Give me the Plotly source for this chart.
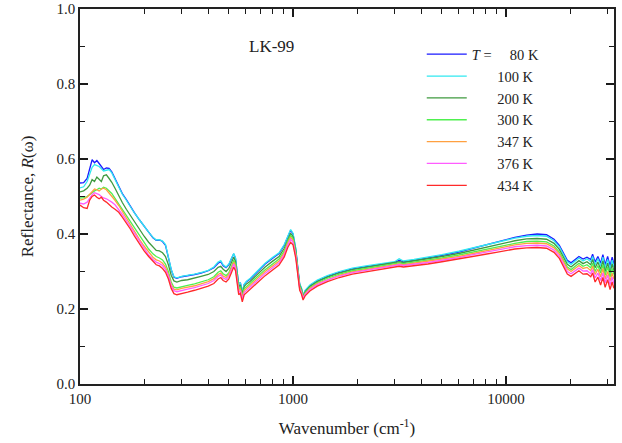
import plotly.graph_objects as go

wavenumber = [100, 104, 108, 111, 114, 117, 120, 123, 126, 129, 133, 137, 141, 146, 152, 158, 165, 172, 180, 190,
              200, 210, 220, 228, 236, 244, 252, 260, 268, 276, 285, 300, 320, 345, 370, 400, 425, 445, 458, 470,
              485, 500, 515, 527, 537, 547, 556, 566, 578, 590, 605, 630, 680, 740, 800, 860, 910, 945, 975, 1000,
              1030, 1055, 1075, 1095, 1115, 1140, 1200, 1300, 1450, 1650, 1900, 2200, 2600, 3000, 3150, 3300, 3700, 4300, 5000, 6000,
              7000, 8000, 9000, 10000, 11000, 12500, 14000, 15500, 16800, 17800, 18600, 19400, 20200, 21000, 22000, 23000, 24000, 25000, 25500, 26200,
              27000, 27800, 28500, 29200, 30000, 30800, 31500, 32100]

R_80K = [0.536, 0.537, 0.548, 0.575, 0.598, 0.590, 0.596, 0.588, 0.578, 0.572, 0.576, 0.575, 0.566, 0.548, 0.528, 0.508, 0.492, 0.474, 0.457, 0.438,
         0.420, 0.405, 0.390, 0.383, 0.384, 0.380, 0.370, 0.340, 0.305, 0.285, 0.282, 0.286, 0.288, 0.292, 0.296, 0.302, 0.310, 0.322, 0.326, 0.315,
         0.310, 0.318, 0.335, 0.347, 0.335, 0.300, 0.265, 0.270, 0.245, 0.265, 0.273, 0.280, 0.300, 0.320, 0.335, 0.348, 0.370, 0.395, 0.410, 0.400,
         0.360, 0.305, 0.265, 0.255, 0.236, 0.248, 0.262, 0.275, 0.287, 0.298, 0.307, 0.313, 0.320, 0.324, 0.330, 0.326, 0.330, 0.336, 0.343, 0.352,
         0.362, 0.370, 0.378, 0.386, 0.391, 0.397, 0.400, 0.398, 0.386, 0.370, 0.350, 0.330, 0.323, 0.330, 0.340, 0.333, 0.338, 0.332, 0.346, 0.325,
         0.340, 0.322, 0.345, 0.318, 0.340, 0.315, 0.338, 0.320]

R_100K = [0.523, 0.526, 0.540, 0.560, 0.578, 0.585, 0.582, 0.580, 0.574, 0.568, 0.570, 0.572, 0.563, 0.545, 0.525, 0.506, 0.490, 0.473, 0.456, 0.438,
          0.420, 0.405, 0.391, 0.384, 0.385, 0.381, 0.372, 0.342, 0.306, 0.286, 0.283, 0.287, 0.289, 0.293, 0.297, 0.303, 0.312, 0.325, 0.329, 0.318,
          0.312, 0.320, 0.336, 0.348, 0.336, 0.300, 0.265, 0.270, 0.246, 0.266, 0.274, 0.282, 0.302, 0.322, 0.337, 0.350, 0.372, 0.397, 0.412, 0.402,
          0.362, 0.307, 0.267, 0.257, 0.237, 0.250, 0.264, 0.277, 0.289, 0.300, 0.309, 0.315, 0.322, 0.326, 0.334, 0.328, 0.332, 0.338, 0.345, 0.354,
          0.363, 0.370, 0.377, 0.384, 0.389, 0.394, 0.396, 0.394, 0.382, 0.366, 0.346, 0.326, 0.319, 0.326, 0.336, 0.328, 0.334, 0.326, 0.340, 0.318,
          0.334, 0.315, 0.338, 0.310, 0.332, 0.306, 0.330, 0.312]

R_200K = [0.512, 0.515, 0.522, 0.530, 0.545, 0.540, 0.552, 0.545, 0.540, 0.555, 0.558, 0.548, 0.538, 0.522, 0.502, 0.484, 0.466, 0.450, 0.432, 0.412,
          0.394, 0.378, 0.364, 0.356, 0.355, 0.350, 0.340, 0.318, 0.290, 0.275, 0.272, 0.276, 0.278, 0.282, 0.287, 0.292, 0.300, 0.311, 0.314, 0.306,
          0.300, 0.308, 0.325, 0.338, 0.327, 0.293, 0.259, 0.264, 0.240, 0.260, 0.267, 0.274, 0.293, 0.312, 0.327, 0.340, 0.362, 0.387, 0.402, 0.393,
          0.355, 0.302, 0.263, 0.253, 0.234, 0.246, 0.260, 0.273, 0.285, 0.296, 0.305, 0.311, 0.318, 0.322, 0.326, 0.324, 0.328, 0.334, 0.340, 0.348,
          0.357, 0.364, 0.371, 0.378, 0.382, 0.387, 0.388, 0.386, 0.375, 0.359, 0.339, 0.319, 0.312, 0.319, 0.329, 0.321, 0.326, 0.318, 0.332, 0.310,
          0.325, 0.306, 0.328, 0.300, 0.322, 0.296, 0.320, 0.302]

R_300K = [0.496, 0.497, 0.500, 0.505, 0.512, 0.515, 0.518, 0.522, 0.520, 0.525, 0.522, 0.515, 0.508, 0.495, 0.480, 0.465, 0.448, 0.432, 0.414, 0.394,
          0.376, 0.360, 0.347, 0.340, 0.336, 0.331, 0.320, 0.300, 0.272, 0.258, 0.256, 0.260, 0.263, 0.267, 0.272, 0.278, 0.286, 0.298, 0.302, 0.294,
          0.289, 0.297, 0.315, 0.330, 0.320, 0.287, 0.254, 0.258, 0.235, 0.254, 0.260, 0.267, 0.286, 0.305, 0.320, 0.333, 0.355, 0.381, 0.396, 0.388,
          0.350, 0.298, 0.260, 0.250, 0.232, 0.243, 0.257, 0.270, 0.282, 0.293, 0.302, 0.308, 0.315, 0.319, 0.323, 0.321, 0.325, 0.330, 0.336, 0.344,
          0.352, 0.359, 0.365, 0.371, 0.375, 0.380, 0.381, 0.379, 0.368, 0.352, 0.332, 0.312, 0.305, 0.312, 0.322, 0.314, 0.318, 0.310, 0.322, 0.300,
          0.316, 0.296, 0.318, 0.290, 0.312, 0.286, 0.308, 0.292]

R_347K = [0.490, 0.493, 0.498, 0.505, 0.512, 0.520, 0.518, 0.515, 0.520, 0.522, 0.518, 0.510, 0.500, 0.490, 0.476, 0.460, 0.442, 0.425, 0.406, 0.386,
          0.368, 0.352, 0.338, 0.331, 0.328, 0.322, 0.312, 0.292, 0.266, 0.253, 0.251, 0.255, 0.258, 0.262, 0.267, 0.273, 0.281, 0.292, 0.296, 0.288,
          0.284, 0.292, 0.310, 0.325, 0.315, 0.282, 0.249, 0.253, 0.230, 0.249, 0.255, 0.262, 0.281, 0.300, 0.315, 0.328, 0.350, 0.376, 0.391, 0.383,
          0.346, 0.295, 0.257, 0.247, 0.230, 0.241, 0.255, 0.268, 0.279, 0.290, 0.299, 0.305, 0.312, 0.316, 0.320, 0.318, 0.322, 0.327, 0.333, 0.340,
          0.348, 0.355, 0.361, 0.367, 0.371, 0.375, 0.376, 0.374, 0.363, 0.347, 0.327, 0.307, 0.300, 0.307, 0.316, 0.308, 0.311, 0.302, 0.314, 0.292,
          0.306, 0.286, 0.308, 0.280, 0.300, 0.275, 0.296, 0.280]

R_376K = [0.482, 0.480, 0.485, 0.495, 0.505, 0.510, 0.508, 0.505, 0.500, 0.496, 0.494, 0.490, 0.485, 0.478, 0.466, 0.452, 0.436, 0.420, 0.400, 0.380,
          0.360, 0.344, 0.332, 0.325, 0.321, 0.316, 0.305, 0.288, 0.262, 0.249, 0.246, 0.250, 0.253, 0.257, 0.262, 0.268, 0.276, 0.287, 0.291, 0.283,
          0.279, 0.287, 0.305, 0.320, 0.310, 0.277, 0.244, 0.248, 0.226, 0.244, 0.250, 0.257, 0.276, 0.295, 0.310, 0.323, 0.345, 0.371, 0.386, 0.378,
          0.342, 0.292, 0.254, 0.244, 0.228, 0.239, 0.252, 0.265, 0.277, 0.288, 0.297, 0.303, 0.310, 0.314, 0.318, 0.316, 0.319, 0.324, 0.330, 0.337,
          0.345, 0.351, 0.357, 0.362, 0.366, 0.369, 0.370, 0.368, 0.357, 0.341, 0.321, 0.300, 0.294, 0.300, 0.309, 0.301, 0.302, 0.294, 0.305, 0.283,
          0.296, 0.276, 0.296, 0.270, 0.290, 0.265, 0.285, 0.268]

R_434K = [0.477, 0.470, 0.468, 0.490, 0.500, 0.504, 0.498, 0.494, 0.498, 0.490, 0.485, 0.478, 0.472, 0.466, 0.458, 0.445, 0.430, 0.414, 0.395, 0.374,
          0.355, 0.340, 0.326, 0.318, 0.315, 0.308, 0.298, 0.280, 0.255, 0.241, 0.238, 0.242, 0.245, 0.250, 0.255, 0.261, 0.268, 0.280, 0.284, 0.276,
          0.272, 0.280, 0.298, 0.312, 0.302, 0.270, 0.238, 0.242, 0.219, 0.238, 0.244, 0.251, 0.270, 0.289, 0.304, 0.317, 0.339, 0.364, 0.378, 0.371,
          0.336, 0.287, 0.250, 0.240, 0.224, 0.235, 0.248, 0.261, 0.273, 0.284, 0.293, 0.299, 0.306, 0.310, 0.314, 0.312, 0.315, 0.320, 0.326, 0.333,
          0.340, 0.346, 0.351, 0.356, 0.360, 0.363, 0.364, 0.362, 0.351, 0.335, 0.314, 0.293, 0.287, 0.293, 0.302, 0.293, 0.294, 0.286, 0.296, 0.272,
          0.285, 0.264, 0.284, 0.258, 0.278, 0.252, 0.272, 0.255]

pad = "\u2007\u2007\u2007\u00a0"
series_names = ["<i>T</i> =\u00a0\u00a0\u00a0\u00a0\u00a080 K", pad + "100 K", pad + "200 K",
                pad + "300 K", pad + "347 K", pad + "376 K", pad + "434 K"]
series_values = [R_80K, R_100K, R_200K, R_300K, R_347K, R_376K, R_434K]
series_colors = ["#1a1aff", "#30e8f0", "#3f9a3f", "#4ff04f", "#ffa040", "#ff5cff", "#ff2a2a"]

x_major = [100, 1000, 10000]
x_minor = [m * d for d in (100, 1000, 10000) for m in range(2, 10) if m * d < 32200]

fig = go.Figure()
for name, vals, col in zip(series_names, series_values, series_colors):
    fig.add_trace(go.Scatter(x=wavenumber, y=vals, mode="lines", name=name,
                             line=dict(color=col, width=1.3)))

font_family = "Liberation Serif"
axis_common = dict(showline=True, linecolor="#222222", linewidth=1.6, mirror="allticks",
                   ticks="inside", ticklen=8, tickwidth=1.6, tickcolor="#1a1a1a",
                   showgrid=False, zeroline=False, automargin=False,
                   tickfont=dict(family=font_family, size=15, color="#222222"))

fig.update_xaxes(type="log", range=[2, 4.507], tickmode="array", tickvals=x_major, ticktext=["100", "1000", "10000"],
                 minor=dict(tickmode="array", tickvals=x_minor, ticks="inside", ticklen=5, tickcolor="#1a1a1a", tickwidth=1.3),
                 title=dict(text="Wavenumber (cm<sup>-1</sup>)", font=dict(family=font_family, size=17, color="#222222"), standoff=16),
                 **axis_common)
fig.update_yaxes(range=[0, 1], tickmode="linear", tick0=0, dtick=0.2, tickformat=".1f",
                 minor=dict(tickmode="linear", tick0=0, dtick=0.1, ticks="inside", ticklen=5, tickcolor="#1a1a1a", tickwidth=1.3),
                 title=dict(text="Reflectance, <i>R</i>(ω)", font=dict(family=font_family, size=17, color="#222222"), standoff=19),
                 **axis_common)

fig.add_annotation(x=0.358, y=0.9, xref="paper", yref="paper", xanchor="center", yanchor="middle",
                   text="LK-99", showarrow=False,
                   font=dict(family=font_family, size=17, color="#222222"))

fig.update_layout(width=622, height=443, plot_bgcolor="white", paper_bgcolor="white",
                  margin=dict(l=80, r=8, t=9, b=59),
                  legend=dict(x=0.64, y=0.922, xanchor="left", yanchor="top", bgcolor="rgba(0,0,0,0)",
                              font=dict(family=font_family, size=14.5, color="#222222"),
                              itemwidth=40, tracegroupgap=0),
                  showlegend=True)

fig.write_html("out.html", config={"displayModeBar": False},
               post_script="document.body.style.margin='0';document.body.style.overflow='hidden';")
